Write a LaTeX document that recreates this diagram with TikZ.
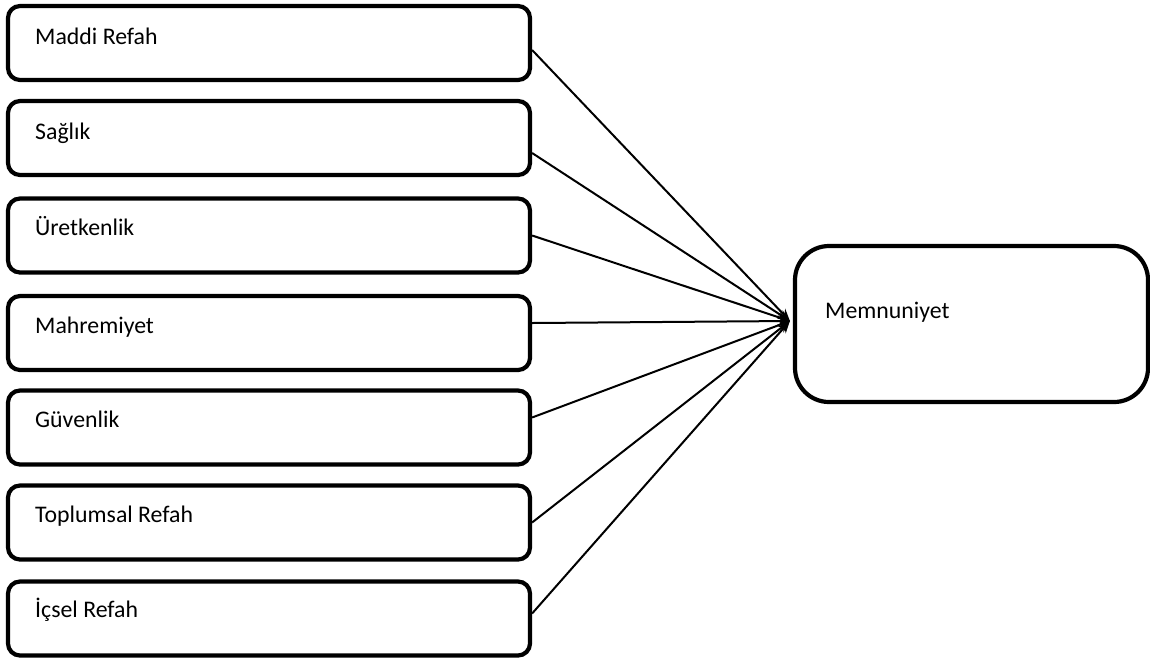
\documentclass[tikz,border=0pt]{standalone}
\usepackage{fontspec}
\setmainfont{Carlito}
\usetikzlibrary{arrows.meta,calc}
\begin{document}
\begin{tikzpicture}[x=1pt,y=-1pt,
  box/.style={draw=black,line width=4.2pt,rounded corners=12pt,minimum width=522pt,minimum height=74pt,inner sep=0pt},
  bigbox/.style={draw=black,line width=4.2pt,rounded corners=34pt,minimum width=353pt,minimum height=156pt,inner sep=0pt},
  lbl/.style={anchor=base west,inner sep=0pt,font=\fontsize{23.8}{28}\selectfont},
  conn/.style={line width=2pt,-{Stealth[length=12pt,width=10pt]}}]
\useasboundingbox (0,0) rectangle (1150,657);
\node[box] (b1) at (269,43) {};
\node[box] (b2) at (269,138) {};
\node[box] (b3) at (269,235.5) {};
\node[box] (b4) at (269,333) {};
\node[box] (b5) at (269,427.5) {};
\node[box] (b6) at (269,522.5) {};
\node[box] (b7) at (269,618.5) {};
\node[bigbox] (m) at (971.5,324) {};
\node[lbl] (t1) at (35,44) {Maddi Refah};
\node[lbl] (t2) at (35,139) {Sağlık};
\node[lbl] (t3) at (35,235) {Üretkenlik};
\node[lbl] (t4) at (35,333) {Mahremiyet};
\node[lbl] (t5) at (35,427) {Güvenlik};
\node[lbl] (t6) at (35,522) {Toplumsal Refah};
\node[lbl] (t7) at (35,617) {İçsel Refah};
\node[lbl] (tm) at (825,318) {Memnuniyet};
\coordinate (tip) at ($(m.west)+(-3,-3)$);
\draw[conn] ($(b1.east)+(0,7)$) -- (tip);
\draw[conn] ($(b2.east)+(0,15)$) -- (tip);
\draw[conn] ($(b3.east)+(0,0)$) -- (tip);
\draw[conn] ($(b4.east)+(0,-10)$) -- (tip);
\draw[conn] ($(b5.east)+(0,-10)$) -- (tip);
\draw[conn] ($(b6.east)+(0,0)$) -- (tip);
\draw[conn] ($(b7.east)+(0,-5)$) -- (tip);
\end{tikzpicture}
\end{document}
